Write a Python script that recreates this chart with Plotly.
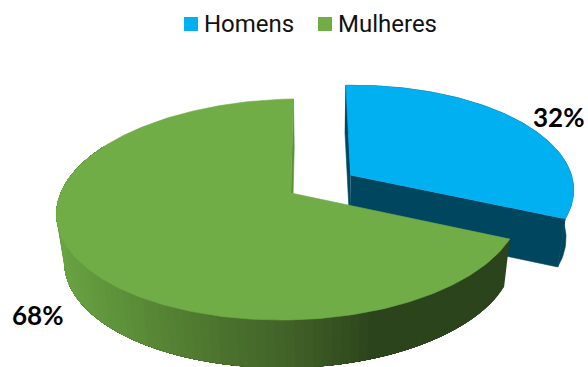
import numpy as np
import plotly.graph_objects as go

categories = ["Homens", "Mulheres"]
values = [32, 68]
labels = ["32%", "68%"]
top_colors = ["#00B0F0", "#70AD47"]

W, H = 588, 367
CX, CY, RX, RY, K = 291, 193, 232, 108, 0.149
START = 0.7
EXPLODE = 0.30
DEPTH = 48
VX, B = 320, 0.97
RIGHT_SQUEEZE, SKEW = 0.98, 0.02


def project(u, v):
    u, v = np.asarray(u, float), np.asarray(v, float)
    s = 1 / (1 + K * v)
    dx = RX * u * s
    dx = np.where(dx > 0, dx * RIGHT_SQUEEZE, dx)
    return CX + dx, CY - RY * v * s - SKEW * dx


def bottom(x, y):
    return VX + (x - VX) * B, y + DEPTH


def mix(a, b, t):
    return "rgb(%d,%d,%d)" % tuple(a[i] + (b[i] - a[i]) * t for i in range(3))


def wall_green(x):
    stops = [(55, (106, 165, 67)), (200, (80, 122, 48)), (300, (64, 96, 40)), (380, (44, 68, 27)), (600, (44, 68, 27))]
    for (x0, c0), (x1, c1) in zip(stops, stops[1:]):
        if x <= x1:
            return mix(c0, c1, max(0, (x - x0) / (x1 - x0)))
    return mix(stops[-1][1], stops[-1][1], 0)


def poly(fig, xs, ys, color, lw=0.6):
    fig.add_trace(go.Scatter(x=list(map(float, xs)), y=list(map(float, ys)), mode="lines", fill="toself", fillcolor=color,
                             line=dict(color=color, width=lw), hoverinfo="skip", showlegend=False))


fig = go.Figure()
total = sum(values)
a0 = START
spans = []
for val in values:
    a1 = a0 + 360 * val / total
    spans.append((a0, a1))
    a0 = a1


def taper(x):
    # the exploded slice's inner edge sits slightly further right than the rim
    return x + 3.0 * (1 - (x - 340) / 235)


# Homens: exploded slice
a, b_ = spans[0]
mid = np.radians((a + b_) / 2)
u0, v0 = EXPLODE * np.sin(mid), EXPLODE * np.cos(mid)
th = np.radians(np.linspace(a, b_, 120))
tx, ty = project(u0 + np.sin(th), v0 + np.cos(th))
tx = taper(tx)
ax_, ay_ = project(u0, v0)
ax_, ay_ = float(taper(ax_)), float(ay_)
bx, by = bottom(tx, ty)
abx, aby = bottom(ax_, ay_)
dark_blue = "#00465F"
poly(fig, list(tx) + list(bx[::-1]), list(ty) + list(by[::-1]), dark_blue)
poly(fig, [ax_, tx[-1], bx[-1], abx], [ay_, ty[-1], by[-1], aby], dark_blue)
poly(fig, [ax_, tx[0], bx[0], abx], [ay_, ty[0], by[0], aby], dark_blue)
poly(fig, [ax_] + list(tx), [ay_] + list(ty), top_colors[0])

# Mulheres: slice at the centre (wall painted back to front so bands have no seams)
a, b_ = spans[1]
gx, gy = project(0.0, 0.0)
gx, gy = float(gx), float(gy)
edges = np.linspace(a, 300, 91)
for e0 in edges[:-1]:
    t = np.radians(np.linspace(e0, 300, 100))
    x, y = project(np.sin(t), np.cos(t))
    xb, yb = bottom(x, y)
    poly(fig, list(x) + list(xb[::-1]), list(y) + list(yb[::-1]), wall_green(float(x[0])), lw=0)
th = np.radians(np.linspace(a, b_, 240))
tx, ty = project(np.sin(th), np.cos(th))
bx, by = bottom(tx, ty)
abx, aby = bottom(gx, gy)
poly(fig, [gx, tx[-1], bx[-1], abx], [gy, ty[-1], by[-1], aby], "#5C9038")
poly(fig, [gx] + list(tx), [gy] + list(ty), top_colors[1])

# Legend
legend_x = [191, 325]
text_x = [203, 337]
for i, cat in enumerate(categories):
    fig.add_trace(go.Scatter(x=[legend_x[i]], y=[24], mode="markers", name=cat, showlegend=False,
                             marker=dict(symbol="square", size=14, color=top_colors[i], line=dict(width=0))))
    fig.add_annotation(x=text_x[i], y=24, text=cat, showarrow=False, xanchor="left", yanchor="middle",
                       xshift=-1, font=dict(family="Roboto", size=24, color="#111111"))

# Data labels
label_x = [558, 37]
label_y = [117, 315]
for i, lab in enumerate(labels):
    fig.add_annotation(x=label_x[i], y=label_y[i], text="<b>%s</b>" % lab, showarrow=False,
                       font=dict(family="Lato", size=26, color="#000000"))

fig.update_layout(width=W, height=H, margin=dict(l=0, r=0, t=0, b=0), paper_bgcolor="white",
                  plot_bgcolor="white", showlegend=False,
                  xaxis=dict(range=[0, W], visible=False, fixedrange=True),
                  yaxis=dict(range=[H, 0], visible=False, fixedrange=True))
fig.write_html("out.html", config={"displayModeBar": False},
               post_script="document.body.style.margin='0';document.documentElement.style.overflow='hidden';")
